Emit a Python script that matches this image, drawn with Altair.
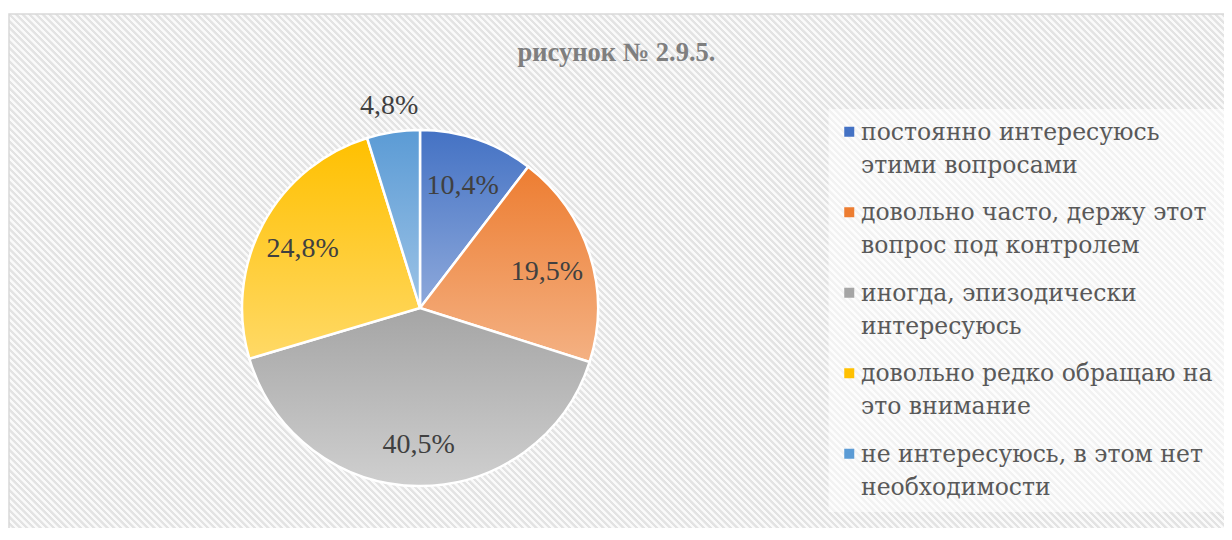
import altair as alt
import pandas as pd

# ---- data ----
categories = [
    "постоянно интересуюсь\nэтими вопросами",
    "довольно часто, держу этот\nвопрос под контролем",
    "иногда, эпизодически\nинтересуюсь",
    "довольно редко обращаю на\nэто внимание",
    "не интересуюсь, в этом нет\nнеобходимости",
]
values = [10.4, 19.5, 40.5, 24.8, 4.8]
top_colors = ["#4472C4", "#ED7D31", "#A5A5A5", "#FFC000", "#5B9BD5"]
bottom_colors = ["#8EA9DB", "#F4B183", "#CFCFCF", "#FFD966", "#9DC3E6"]
title_text = "рисунок № 2.9.5."

df = pd.DataFrame({"cat": categories, "value": values, "order": list(range(len(values)))})

# ---- layout constants ----
PW, PH = 1215, 514
CX, CY, R = 411, 294, 178
SERIF = "Liberation Serif"
LEG_FONT = "DejaVu Serif"
LFS = 23.5

# striped background via a many-stop linear gradient (downward diagonal)
RW, RH = PW + 10, PH + 10
c = (1 / RH + 1 / RW) / (1 / RH**2 + 1 / RW**2)
n_periods = int((RW + RH) / 6.7)
stops = []
for k in range(n_periods):
    stops += [
        {"offset": (k + 0.0) / n_periods, "color": "#e3e3e3"},
        {"offset": (k + 0.4) / n_periods, "color": "#e3e3e3"},
        {"offset": (k + 0.5) / n_periods, "color": "#fafafa"},
        {"offset": (k + 0.9) / n_periods, "color": "#fafafa"},
    ]
stripes = {"gradient": "linear", "x1": 0, "y1": 1, "x2": c / RH, "y2": 1 - c / RW, "stops": stops}

def slice_grad(i):
    return {"gradient": "linear", "x1": 0, "y1": 0, "x2": 0, "y2": 1,
            "stops": [{"offset": 0, "color": top_colors[i]}, {"offset": 1, "color": bottom_colors[i]}]}

bg = alt.Chart(alt.Data(values=[{"a": 1}])).mark_rect(
    fill=stripes, stroke="#d9d9d9", strokeWidth=1.5
).encode(x=alt.value(0), x2=alt.value(RW), y=alt.value(0), y2=alt.value(RH))

base = alt.Chart(df).transform_window(
    cum="sum(value)", sort=[alt.SortField("order")], frame=[None, 0]
).transform_joinaggregate(total="sum(value)").transform_calculate(
    start="(datum.cum - datum.value) / datum.total",
    end="datum.cum / datum.total",
    mid="(datum.cum - datum.value / 2) / datum.total",
    label="replace(format(datum.value, '.1f'), '.', ',') + '%'",
)

theta_scale = alt.Scale(domain=[0, 1], range=[0, 6.283185307179586])

legend = alt.Legend(
    title=None, orient="none", legendX=819.5, legendY=95, padding=12,
    fillColor="rgba(255,255,255,0.55)",
    symbolType="M-1,-1.2H1V0.8H-1Z", symbolSize=100, symbolStrokeWidth=0,
    symbolOffset=-3,
    labelFont=LEG_FONT, labelFontSize=LFS, labelColor="#595959",
    labelExpr="split(datum.label, '\\n')", labelLimit=0, labelOffset=0,
    rowPadding=22.5, labelBaseline="middle",
)

arcs_flat = base.mark_arc(outerRadius=R, x=CX, y=CY).encode(
    theta=alt.Theta("start:Q", scale=theta_scale),
    theta2="end:Q",
    fill=alt.Fill("cat:N", scale=alt.Scale(domain=categories, range=top_colors), legend=legend),
)

cond = alt.when(alt.datum.order == 0).then(alt.value(slice_grad(0)))
for i in range(1, len(values) - 1):
    cond = cond.when(alt.datum.order == i).then(alt.value(slice_grad(i)))
fill_grad = cond.otherwise(alt.value(slice_grad(len(values) - 1)))

arcs_grad = base.mark_arc(outerRadius=R, x=CX, y=CY, stroke="white", strokeWidth=2.5).encode(
    theta=alt.Theta("start:Q", scale=theta_scale),
    theta2="end:Q",
    fill=fill_grad,
)

text_in = base.transform_filter("datum.order < 4").mark_text(
    radius=133, x=CX, y=CY, dy=4, font=SERIF, fontSize=28, color="#404040"
).encode(theta=alt.Theta("mid:Q", scale=theta_scale), text="label:N")

text_out = base.transform_filter("datum.order == 4").mark_text(
    radius=206, x=CX, y=CY, dy=2, font=SERIF, fontSize=28, color="#404040"
).encode(theta=alt.Theta("mid:Q", scale=theta_scale), text="label:N")

chart = alt.layer(bg, arcs_flat, arcs_grad, text_in, text_out).properties(
    width=PW, height=PH,
    padding={"left": 1, "top": 6, "right": 0, "bottom": 0},
    autosize=alt.AutoSizeParams(type="none"),
    title=alt.TitleParams(
        title_text, font=SERIF, fontSize=26.5, fontWeight="bold", color="#7f7f7f",
        anchor="middle", offset=-66, baseline="middle",
    ),
).configure(
    view=alt.ViewConfig(stroke=None),
    legend=alt.LegendConfig(labelFont=LEG_FONT, labelFontSize=LFS, labelColor="#595959"),
    style={"guide-label": {"lineHeight": 33, "font": LEG_FONT, "fontSize": LFS}},
)

chart.save("out.html", embed_options={"renderer": "svg", "actions": False})
